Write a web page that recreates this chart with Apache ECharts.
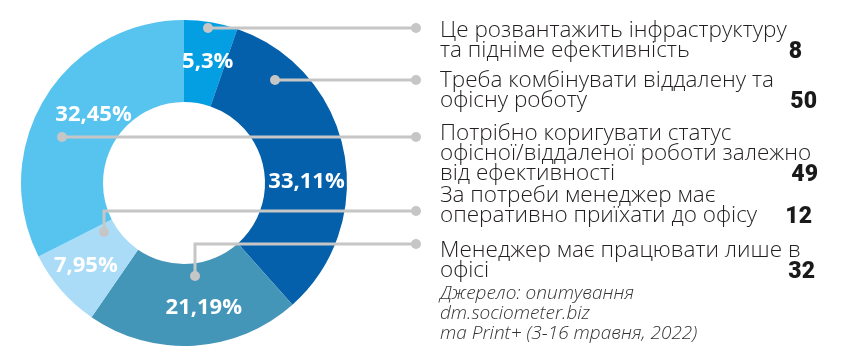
<!DOCTYPE html>
<html>
<head>
<meta charset="utf-8">
<script src="https://cdn.jsdelivr.net/npm/echarts@6/dist/echarts.min.js"></script>
<style>
html,body{margin:0;padding:0;background:#fff}
#main{width:848px;height:351px}
</style>
</head>
<body>
<div id="main"></div>
<script>
// відповіді, в порядку як у підписах справа
const answers = [
  'Це розвантажить інфраструктуру\nта підніме ефективність',
  'Треба комбінувати віддалену та\nофісну роботу',
  'Потрібно коригувати статус\nофісної/віддаленої роботи залежно\nвід ефективності',
  'За потреби менеджер має\nоперативно приїхати до офісу',
  'Менеджер має працювати лише в\nофісі'
];
const counts = [8, 50, 49, 12, 32];
// порядок секторів по колу (за годинниковою, від верху)
const ringOrder = [0, 1, 4, 3, 2];
const sourceLines = ['Джерело: опитування', 'dm.sociometer.biz', 'та Print+ (3-16 травня, 2022)'];

const colors = ['#049fe2', '#0560ab', '#57c4ef', '#aadcf7', '#4496b8'];
const labelOffsets = [[3, 2], [0, 23], [16, -3], [-4, 1], [12, 0]];

// розмітка правого блоку
const blockTop = [19, 69, 122, 184, 239];
const lineH = 20;
const numRight = [802, 817, 818, 812, 815];
const lineColor = '#c6c6c6';
const leaders = [
  [[208, 28], [416, 28]],
  [[275, 80], [416, 80]],
  [[62, 137], [416, 137]],
  [[104, 232], [104, 211], [416, 211]],
  [[195, 276], [195, 244], [416, 244]]
];

const chart = echarts.init(document.getElementById('main'));

let graphics = [];
leaders.forEach(pts => {
  graphics.push({
    type: 'polyline', z: 100,
    shape: { points: pts },
    style: { stroke: lineColor, lineWidth: 3, fill: null }
  });
  [pts[0], pts[pts.length - 1]].forEach(p => {
    graphics.push({
      type: 'circle', z: 101,
      shape: { cx: p[0], cy: p[1], r: 5 },
      style: { fill: lineColor }
    });
  });
});

answers.forEach((txt, i) => {
  let nLines = txt.split('\n').length;
  graphics.push({
    type: 'text', z: 100, left: 440, top: blockTop[i],
    style: {
      text: txt, fill: '#231f20', font: '300 22.5px "Open Sans"', lineHeight: lineH
    }
  });
  graphics.push({
    type: 'text', z: 100,
    x: numRight[i], y: blockTop[i] + (nLines - 1) * lineH + 13,
    style: {
      text: String(counts[i]), fill: '#1a1a1a', font: '900 23px Roboto',
      align: 'right', verticalAlign: 'middle'
    }
  });
});

graphics.push({
  type: 'text', z: 100, left: 440, top: 284,
  style: {
    text: sourceLines.join('\n'), fill: '#333333',
    font: 'italic 300 19px "Open Sans"', lineHeight: lineH
  }
});

chart.setOption({
  animation: false,
  graphic: graphics,
  series: [{
    type: 'pie',
    center: [184, 183],
    radius: [81, 163],
    startAngle: 90,
    avoidLabelOverlap: false,
    silent: true,
    itemStyle: { borderWidth: 0 },
    label: {
      show: true,
      position: 'inside',
      color: '#fff',
      fontFamily: 'Open Sans',
      fontWeight: 700,
      fontSize: 22,
      formatter: p => String(p.percent).replace('.', ',') + '%'
    },
    labelLine: { show: false },
    data: ringOrder.map(i => ({
      name: answers[i],
      value: counts[i],
      itemStyle: { color: colors[i] },
      label: { offset: labelOffsets[i] }
    }))
  }]
});
</script>
</body>
</html>
